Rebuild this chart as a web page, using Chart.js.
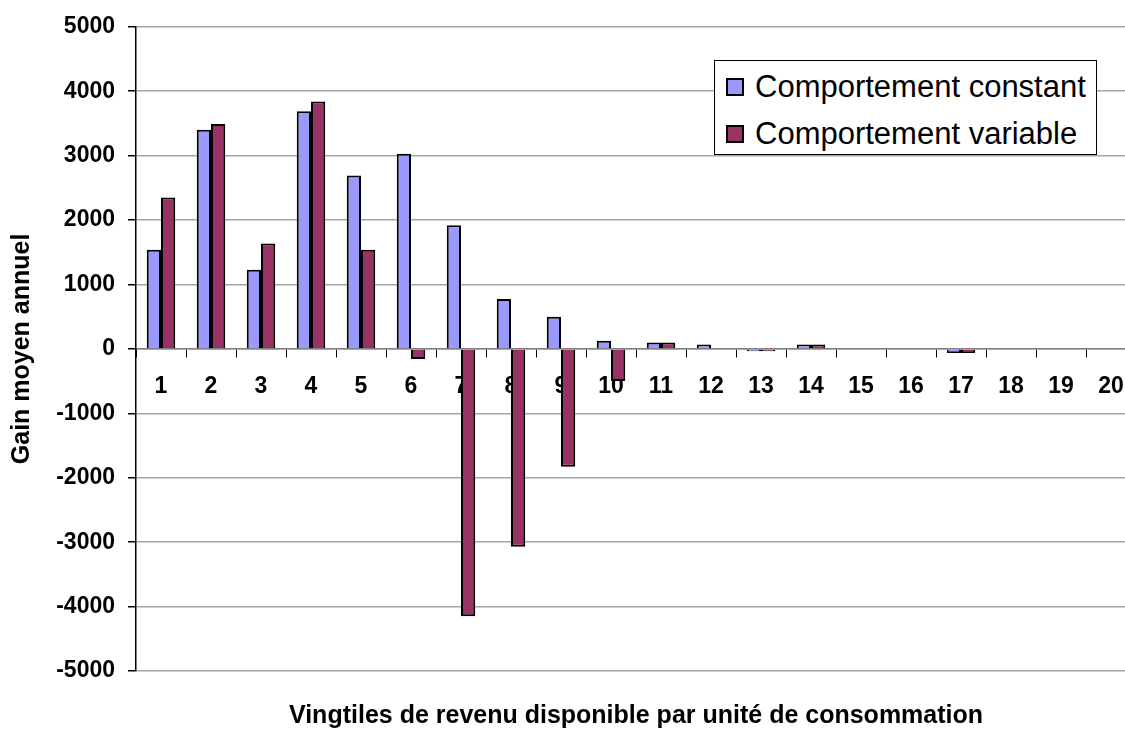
<!DOCTYPE html>
<html>
<head>
<meta charset="utf-8">
<script src="https://cdn.jsdelivr.net/npm/chart.js@4/dist/chart.umd.min.js"></script>
<style>
    html, body { margin: 0; padding: 0; background: #fff; overflow: hidden; }
    #wrap { position: relative; width: 1140px; height: 731px; }
    #legend {
        position: absolute; left: 714px; top: 60px; width: 381px; height: 93px;
        border: 1px solid #000; background: #fff;
        font-family: "Liberation Sans", Arial, sans-serif; font-size: 31px; color: #000;
    }
    #legend .item { position: absolute; left: 11px; height: 34px; line-height: 34px; white-space: nowrap; }
    #legend .sw { display: inline-block; width: 14px; height: 14px; border: 2px solid #000; margin-right: 11px; vertical-align: 1px; }
</style>
</head>
<body>
<div id="wrap">
    <canvas id="gainChart" width="1140" height="731"></canvas>
    <div id="legend"></div>
</div>
<script>
var categories = ['1', '2', '3', '4', '5', '6', '7', '8', '9', '10',
                  '11', '12', '13', '14', '15', '16', '17', '18', '19', '20'];
var seriesNames = ['Comportement constant', 'Comportement variable'];
var constant = [1540, 3400, 1230, 3690, 2690, 3030, 1920, 775, 500, 125,
                98, 67, -35, 67, 0, 0, -65, 0, 0, 0];
var variable = [2350, 3490, 1635, 3840, 1540, -155, -4150, -3070, -1830, -500,
                98, 0, -35, 67, 0, 0, -65, 0, 0, 0];
var yTicks = [5000, 4000, 3000, 2000, 1000, 0, -1000, -2000, -3000, -4000, -5000];
var colors = ['#9999ff', '#993366'];

var font = 'Liberation Sans, Arial, sans-serif';

var ctx = document.getElementById('gainChart');
var chart = new Chart(ctx, {
    type: 'bar',
    data: {
        labels: categories,
        datasets: [{
            label: seriesNames[0],
            data: constant,
            backgroundColor: colors[0],
            borderColor: '#000',
            borderWidth: 2
        }, {
            label: seriesNames[1],
            data: variable,
            backgroundColor: colors[1],
            borderColor: '#000',
            borderWidth: 2
        }]
    },
    options: {
        responsive: false,
        animation: false,
        layout: { padding: { top: 25, right: 4, left: 0, bottom: 0 } },
        datasets: { bar: { categoryPercentage: 0.57, barPercentage: 1 } },
        plugins: {
            legend: { display: false },
            tooltip: { enabled: false },
            title: {
                display: true,
                fullSize: false,
                position: 'bottom',
                text: 'Vingtiles de revenu disponible par unité de consommation',
                color: '#000',
                font: { family: font, size: 25, weight: 'bold' },
                padding: { top: 30, bottom: 0 }
            }
        },
        scales: {
            x: {
                position: { y: 0 },
                grid: { drawOnChartArea: false, tickLength: 8, tickColor: '#000', offset: true },
                border: { color: '#808080', width: 1.5 },
                ticks: {
                    color: '#000',
                    padding: 16,
                    maxRotation: 0,
                    autoSkip: false,
                    font: { family: font, size: 23, weight: 'bold' }
                },
                afterFit: function (scale) { scale.height = 0; }
            },
            y: {
                min: -5000,
                max: 5000,
                afterBuildTicks: function (scale) {
                    scale.ticks = yTicks.map(function (v) { return { value: v }; });
                },
                grid: { color: '#a6a6a6', lineWidth: 1.5, tickLength: 8, tickColor: '#000' },
                border: { color: '#000', width: 1.5 },
                ticks: {
                    color: '#000',
                    padding: 13,
                    font: { family: font, size: 23, weight: 'bold' },
                    callback: function (v) { return String(v); }
                },
                title: {
                    display: true,
                    text: 'Gain moyen annuel',
                    color: '#000',
                    font: { family: font, size: 25, weight: 'bold' },
                    padding: { top: 7, bottom: 0 }
                },
                afterFit: function (scale) { scale.width = 136; }
            }
        }
    }
});

// legend drawn as html over the plot
var legendEl = document.getElementById('legend');
chart.data.datasets.forEach(function (ds, i) {
    var item = document.createElement('div');
    item.className = 'item';
    item.style.top = (9 + i * 47) + 'px';
    item.innerHTML = '<span class="sw" style="background:' + ds.backgroundColor + '"></span>' + ds.label;
    legendEl.appendChild(item);
});
</script>
</body>
</html>
